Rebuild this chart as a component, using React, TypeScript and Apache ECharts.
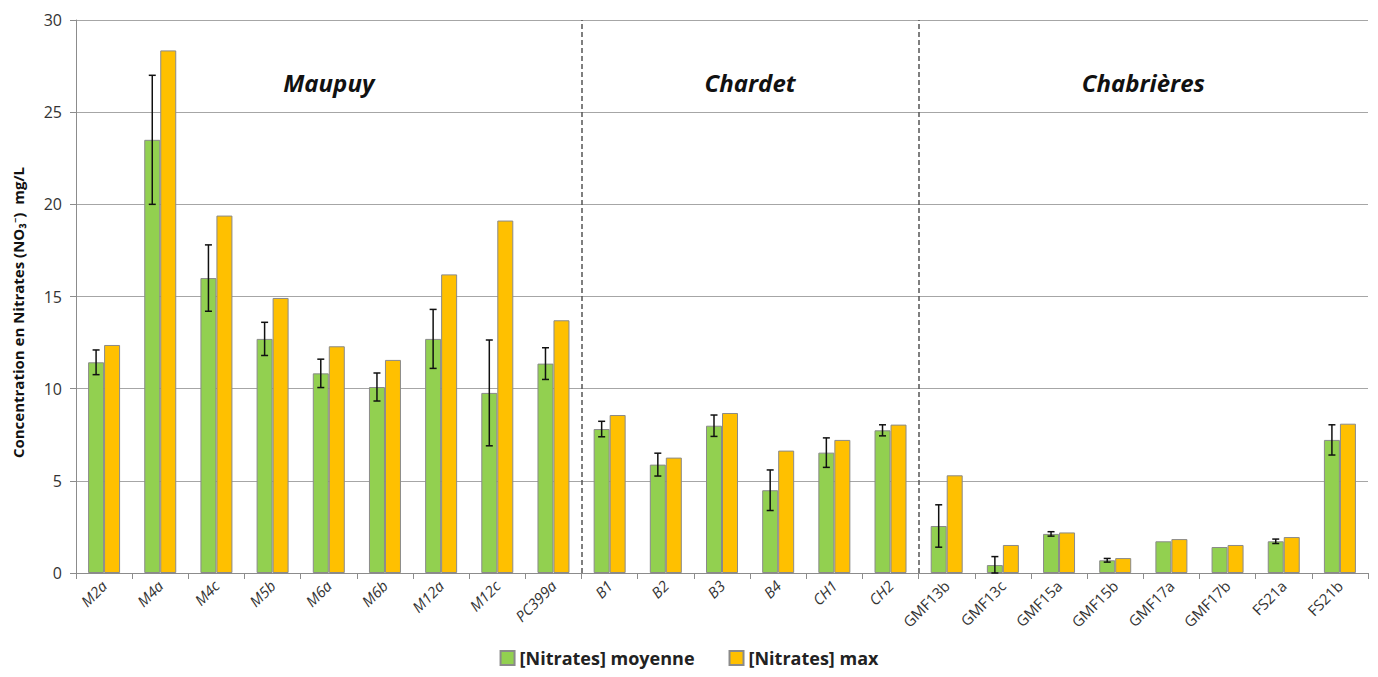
import React, { useEffect, useRef } from "react";
import * as echarts from "echarts";

const categories = [
  "M2a", "M4a", "M4c", "M5b", "M6a", "M6b", "M12a", "M12c", "PC399a",
  "B1", "B2", "B3", "B4", "CH1", "CH2",
  "GMF13b", "GMF13c", "GMF15a", "GMF15b", "GMF17a", "GMF17b", "FS21a", "FS21b",
];
const meanValues = [
  11.43, 23.5, 16.0, 12.7, 10.83, 10.09, 12.7, 9.77, 11.36,
  7.81, 5.88, 7.99, 4.49, 6.53, 7.74,
  2.55, 0.43, 2.12, 0.69, 1.72, 1.41, 1.72, 7.22,
];
const maxValues = [
  12.37, 28.35, 19.39, 14.92, 12.3, 11.56, 16.2, 19.12, 13.71,
  8.57, 6.26, 8.68, 6.64, 7.22, 8.05,
  5.3, 1.52, 2.2, 0.81, 1.84, 1.52, 1.95, 8.1,
];
const errorValues = [
  0.67, 3.5, 1.8, 0.9, 0.77, 0.76, 1.6, 2.87, 0.86,
  0.42, 0.62, 0.58, 1.1, 0.8, 0.3,
  1.15, 0.46, 0.12, 0.1, 0, 0, 0.12, 0.82,
];
const groupNames = ["Maupuy", "Chardet", "Chabrières"];
const groupStarts = [0, 9, 15];
const groupEnds = [9, 15, 23];
const groupItalicLabels = [true, true, false];
const yTicks = [0, 5, 10, 15, 20, 25, 30];
const seriesNames = ["[Nitrates] moyenne", "[Nitrates] max"];

const FONT = "'Open Sans', 'Noto Sans', sans-serif";
const BAR_W = 16;

export default function App() {
  const ref = useRef<HTMLDivElement>(null);
  useEffect(() => {
    if (!ref.current) return;
    const chart = echarts.init(ref.current, undefined, { renderer: "svg" });

    const catData = categories.map((c, i) => {
      const g = groupStarts.findIndex((s, k) => i >= s && i < groupEnds[k]);
      return { value: c, textStyle: { fontStyle: groupItalicLabels[g] ? "italic" : "normal" } };
    });

    const option = {
      animation: false,
      backgroundColor: "#ffffff",
      grid: {
        left: 68,
        right: 2,
        top: 12,
        bottom: 96,
        containLabel: false,
        outerBoundsMode: "none",
      },
      legend: {
        bottom: 0,
        left: "center",
        itemWidth: 14,
        itemHeight: 14,
        itemGap: 34,
        icon: "rect",
        padding: [2, 5, 2, 5],
        textStyle: { fontFamily: FONT, fontWeight: "bold", fontSize: 18, color: "#222" },
        data: seriesNames,
      },
      xAxis: [
        {
          type: "category",
          data: catData,
          boundaryGap: true,
          axisLine: { lineStyle: { color: "#8c8c8c", width: 1 } },
          axisTick: { show: true, length: 6, lineStyle: { color: "#8c8c8c" } },
          axisLabel: {
            rotate: 45,
            interval: 0,
            fontFamily: FONT,
            fontSize: 15,
            color: "#333",
            margin: 10,
          },
        },
        {
          type: "value",
          min: 0,
          max: categories.length,
          show: false,
        },
      ],
      yAxis: {
        type: "value",
        min: yTicks[0],
        max: yTicks[yTicks.length - 1],
        interval: 5,
        name: "Concentration en Nitrates (NO₃⁻)  mg/L",
        nameLocation: "middle",
        nameGap: 51,
        nameTextStyle: {
          fontFamily: FONT,
          fontWeight: "bold",
          fontSize: 15,
          color: "#111",
          padding: [0, 32, 0, 0],
        },
        axisLine: { show: true, lineStyle: { color: "#8c8c8c" } },
        axisTick: { show: true, length: 6, lineStyle: { color: "#8c8c8c" } },
        axisLabel: { fontFamily: FONT, fontSize: 16, color: "#333", margin: 14 },
        splitLine: { show: true, lineStyle: { color: "#a6a6a6", width: 1 } },
      },
      series: [
        {
          name: seriesNames[0],
          type: "bar",
          data: meanValues,
          barWidth: BAR_W,
          barGap: "0%",
          itemStyle: { color: "#92D050", borderColor: "#8a8a8a", borderWidth: 1 },
        },
        {
          name: seriesNames[1],
          type: "bar",
          data: maxValues,
          barWidth: BAR_W,
          barGap: "0%",
          itemStyle: { color: "#FFC000", borderColor: "#8a8a8a", borderWidth: 1 },
        },
        {
          name: "errors",
          type: "custom",
          silent: true,
          z: 5,
          data: meanValues.map((v, i) => [i, v, errorValues[i]]),
          renderItem: (params: any, api: any) => {
            const idx = api.value(0);
            const v = api.value(1);
            const e = api.value(2);
            if (!e) return null;
            const top = api.coord([idx, v + e]);
            const bot = api.coord([idx, Math.max(0, v - e)]);
            const x = top[0] - BAR_W / 2;
            const cap = 3.5;
            const style = { stroke: "#111", lineWidth: 1.5 };
            return {
              type: "group",
              children: [
                { type: "line", shape: { x1: x, y1: top[1], x2: x, y2: bot[1] }, style },
                { type: "line", shape: { x1: x - cap, y1: top[1], x2: x + cap, y2: top[1] }, style },
                { type: "line", shape: { x1: x - cap, y1: bot[1], x2: x + cap, y2: bot[1] }, style },
              ],
            };
          },
        },
        {
          name: "groups",
          type: "scatter",
          xAxisIndex: 1,
          symbolSize: 0,
          silent: true,
          data: groupStarts.slice(1).map((s) => [s, 0]),
          markLine: {
            silent: true,
            symbol: "none",
            label: { show: false },
            lineStyle: { color: "#555", type: [5, 3], width: 1.5 },
            data: groupStarts.slice(1).map((s) => ({ xAxis: s })),
          },
          markArea: {
            silent: true,
            itemStyle: { color: "rgba(0,0,0,0)" },
            label: {
              show: true,
              position: "insideTop",
              distance: 50,
              fontFamily: FONT,
              fontSize: 24,
              fontWeight: "bold",
              fontStyle: "italic",
              color: "#111",
            },
            data: groupNames.map((n, k) => [
              { name: n, xAxis: groupStarts[k] },
              { xAxis: groupEnds[k] },
            ]),
          },
        },
      ],
    };
    chart.setOption(option as any);
    return () => chart.dispose();
  }, []);
  return <div ref={ref} style={{ width: 1362, height: 661 }} />;
}
